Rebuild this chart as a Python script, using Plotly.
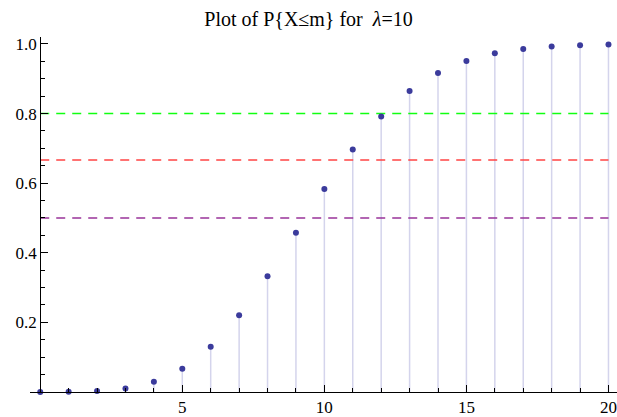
import plotly.graph_objects as go

m_values = list(range(21))
cdf_values = [0.0000454, 0.000499, 0.00277, 0.01034, 0.02925, 0.06709, 0.1301,
              0.2202, 0.3328, 0.4579, 0.5830, 0.6968, 0.7916, 0.8645, 0.9165,
              0.9513, 0.9730, 0.9857, 0.9928, 0.9965, 0.9984]
ref_levels = [0.8, 2/3, 0.5]
ref_colors = ["#11ff11", "#ff4444", "#993399"]
y_tick_vals = [0.2, 0.4, 0.6, 0.8, 1.0]
y_tick_text = ["0.2", "0.4", "0.6", "0.8", "1.0"]
x_tick_vals = [5, 10, 15, 20]
x_tick_text = ["5", "10", "15", "20"]

W, H = 617, 417
ml, mr, mt, mb = 30, 0, 37, 20
xr = [-0.36, 20.3]
yr = [0, 1.02]

fig = go.Figure()

# stems
sx, sy = [], []
for m, v in zip(m_values, cdf_values):
    sx += [m, m, None]
    sy += [0, v, None]
fig.add_trace(go.Scatter(x=sx, y=sy, mode="lines",
                         line=dict(color="rgb(212,212,236)", width=1.5),
                         hoverinfo="skip", showlegend=False))

for lvl, col in zip(ref_levels, ref_colors):
    fig.add_trace(go.Scatter(x=[0, 20], y=[lvl, lvl], mode="lines",
                             line=dict(color=col, width=1.6, dash="9px,7px"),
                             showlegend=False))

fig.add_trace(go.Scatter(x=m_values, y=cdf_values, mode="markers",
                         marker=dict(color="#3b3b9c", size=6),
                         cliponaxis=False, showlegend=False))

pos = (0 - xr[0]) / (xr[1] - xr[0])

fig.update_layout(
    width=W, height=H,
    margin=dict(l=ml, r=mr, t=mt, b=mb),
    paper_bgcolor="white", plot_bgcolor="white",
    font=dict(family="Liberation Serif", size=17, color="black"),
    title=dict(text="Plot of P{X≤m} for&nbsp; <i>λ</i>=10", x=0.5, xanchor="center",
               y=1 - 19 / H, yanchor="middle",
               font=dict(family="Liberation Serif", size=20, color="black")),
    xaxis=dict(range=xr, showgrid=False, zeroline=False, showline=True,
               linecolor="black", linewidth=1,
               tickvals=x_tick_vals, ticktext=x_tick_text,
               ticks="inside", ticklen=7, tickcolor="black", tickwidth=1,
               minor=dict(dtick=1, tick0=0, ticks="inside", ticklen=4, tickcolor="black"),
               tickfont=dict(family="Liberation Serif", size=17)),
    yaxis=dict(range=yr, showgrid=False, zeroline=False, showline=True,
               linecolor="black", linewidth=1, anchor="free", position=pos,
               tickvals=y_tick_vals, ticktext=y_tick_text,
               ticks="inside", ticklen=7, tickcolor="black", tickwidth=1,
               minor=dict(dtick=0.05, tick0=0, ticks="inside", ticklen=4, tickcolor="black"),
               tickfont=dict(family="Liberation Serif", size=17)),
)

fig.write_html("out.html", config={"displayModeBar": False},
               post_script="document.body.style.margin='0';document.body.style.overflow='hidden';")
